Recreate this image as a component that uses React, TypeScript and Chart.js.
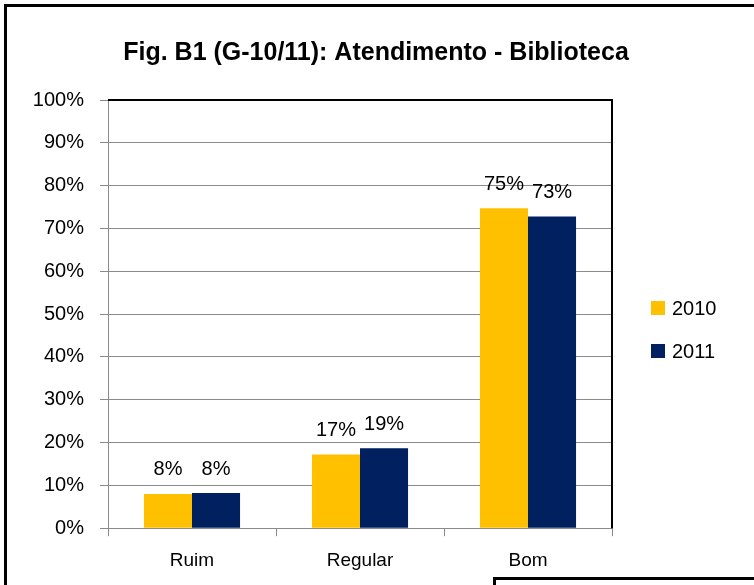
import React, { useEffect, useRef } from "react";
import { Chart, registerables } from "chart.js";

Chart.register(...registerables);

const categories = ["Ruim", "Regular", "Bom"];
const series2010 = [8.0, 17.2, 74.7];
const series2011 = [8.2, 18.7, 72.8];
const seriesLabels = ["2010", "2011"];
const seriesColors = ["#FFC000", "#002060"];
const titleText = "Fig. B1 (G-10/11): Atendimento - Biblioteca";
const yMax = 100;
const yStep = 10;

const FONT = "'Liberation Sans', Arial, sans-serif";
const GRID = "#8a8a8a";

const framePlugin = {
  id: "frame",
  beforeDraw(chart: any) {
    const { ctx, width, height } = chart;
    ctx.save();
    ctx.fillStyle = "#ffffff";
    ctx.fillRect(0, 0, width, height);
    ctx.fillStyle = "#000000";
    // outer border (left + top)
    ctx.fillRect(4, 4, 3, height - 4);
    ctx.fillRect(4, 4, width - 4, 3);
    // bottom-right box partially visible
    ctx.fillRect(493, 577, width - 493, 3);
    ctx.fillRect(493, 577, 3, height - 577);
    // title
    ctx.font = `bold 25px ${FONT}`;
    ctx.textAlign = "center";
    ctx.textBaseline = "middle";
    ctx.fillText(titleText, 376, 53);
    ctx.restore();
  },
  afterDraw(chart: any) {
    const { ctx, chartArea } = chart;
    ctx.save();
    ctx.strokeStyle = "#000000";
    ctx.lineWidth = 2;
    ctx.beginPath();
    ctx.moveTo(chartArea.left, chartArea.top);
    ctx.lineTo(chartArea.right, chartArea.top);
    ctx.lineTo(chartArea.right, chartArea.bottom);
    ctx.stroke();
    ctx.restore();
  },
};

const valueLabelPlugin = {
  id: "valueLabels",
  afterDatasetsDraw(chart: any) {
    const { ctx } = chart;
    ctx.save();
    ctx.font = `20px ${FONT}`;
    ctx.fillStyle = "#000000";
    ctx.textAlign = "center";
    ctx.textBaseline = "middle";
    chart.data.datasets.forEach((ds: any, i: number) => {
      const meta = chart.getDatasetMeta(i);
      meta.data.forEach((bar: any, j: number) => {
        const v = ds.data[j];
        ctx.fillText(Math.round(v) + "%", bar.x, bar.y - 24);
      });
    });
    ctx.restore();
  },
};

const legendPlugin = {
  id: "customLegend",
  afterDraw(chart: any) {
    const { ctx, chartArea } = chart;
    ctx.save();
    ctx.font = `20px ${FONT}`;
    ctx.textAlign = "left";
    ctx.textBaseline = "middle";
    chart.data.datasets.forEach((ds: any, i: number) => {
      const cy = chartArea.top + 208 + i * 43;
      const x = chartArea.right + 39;
      ctx.fillStyle = ds.backgroundColor;
      ctx.fillRect(x, cy - 7, 14, 14);
      ctx.fillStyle = "#000000";
      ctx.fillText(ds.label, x + 21, cy + 1);
    });
    ctx.restore();
  },
};

export default function App() {
  const ref = useRef<HTMLCanvasElement | null>(null);
  useEffect(() => {
    if (!ref.current) return;
    const chart = new Chart(ref.current, {
      type: "bar",
      data: {
        labels: categories,
        datasets: [
          { label: seriesLabels[0], data: series2010, backgroundColor: seriesColors[0] },
          { label: seriesLabels[1], data: series2011, backgroundColor: seriesColors[1] },
        ],
      },
      options: {
        animation: false,
        responsive: false,
        maintainAspectRatio: false,
        devicePixelRatio: 1,
        layout: { padding: { left: 8, right: 142, top: 100, bottom: 0 } },
        datasets: { bar: { categoryPercentage: 0.572, barPercentage: 1 } },
        plugins: {
          legend: { display: false },
          tooltip: { enabled: false },
          title: { display: false },
        },
        scales: {
          x: {
            grid: {
              display: true,
              drawOnChartArea: false,
              drawTicks: true,
              tickLength: 8,
              color: GRID,
              offset: true,
            },
            border: { display: true, color: GRID, width: 1 },
            ticks: { color: "#000000", font: { family: FONT, size: 19 }, padding: 13 },
          },
          y: {
            min: 0,
            max: yMax,
            grid: { color: GRID, tickLength: 8, drawTicks: true },
            border: { display: true, color: GRID, width: 1 },
            ticks: {
              stepSize: yStep,
              color: "#000000",
              font: { family: FONT, size: 20 },
              padding: 16,
              callback: (v: any) => v + "%",
            },
            afterFit: (s: any) => {
              s.width = 100;
            },
          },
        },
      },
      plugins: [framePlugin, valueLabelPlugin, legendPlugin],
    });
    return () => chart.destroy();
  }, []);
  return (
    <div style={{ position: "fixed", left: 0, top: 0, width: 754, height: 585 }}>
      <canvas ref={ref} width={754} height={585} style={{ width: 754, height: 585, display: "block" }} />
    </div>
  );
}
